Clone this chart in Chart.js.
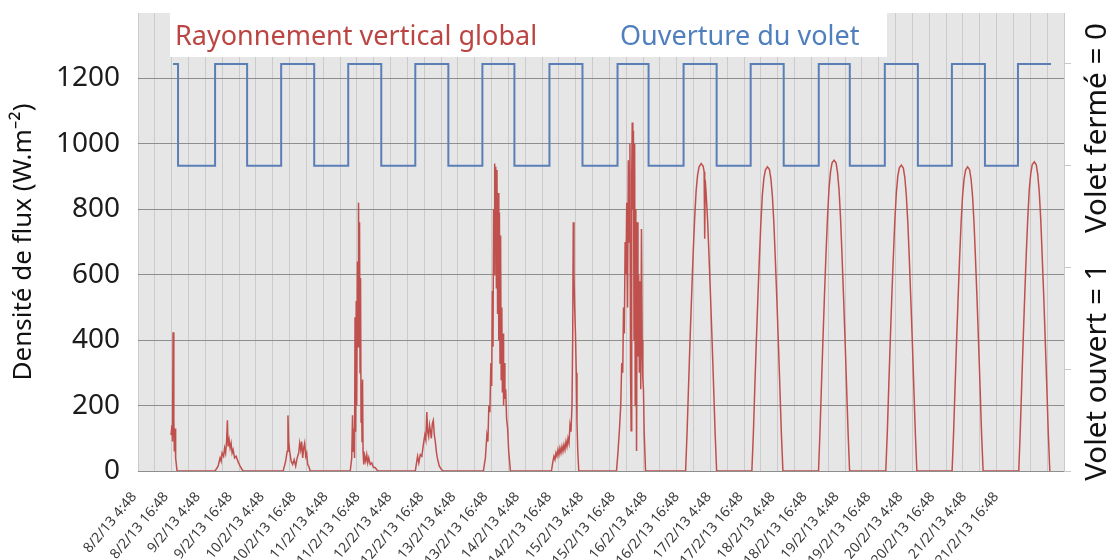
<!DOCTYPE html>
<html>
<head>
<meta charset="utf-8">
<script src="https://cdn.jsdelivr.net/npm/chart.js@4.4.1/dist/chart.umd.min.js"></script>
<style>
  html, body { margin: 0; padding: 0; background: #ffffff; }
  #wrap { width: 1120px; height: 560px; }
</style>
</head>
<body>
<div id="wrap"><canvas id="chart-volet" width="1120" height="560"></canvas></div>
<script>
// Rayonnement vertical global et ouverture du volet, 8/2/13 - 21/2/13
// x = heures depuis 8/2/13 4:48

const tickLabels = ['8/2/13 4:48', '8/2/13 16:48', '9/2/13 4:48', '9/2/13 16:48', '10/2/13 4:48', '10/2/13 16:48',
    '11/2/13 4:48', '11/2/13 16:48', '12/2/13 4:48', '12/2/13 16:48', '13/2/13 4:48', '13/2/13 16:48',
    '14/2/13 4:48', '14/2/13 16:48', '15/2/13 4:48', '15/2/13 16:48', '16/2/13 4:48', '16/2/13 16:48',
    '17/2/13 4:48', '17/2/13 16:48', '18/2/13 4:48', '18/2/13 16:48', '19/2/13 4:48', '19/2/13 16:48',
    '20/2/13 4:48', '20/2/13 16:48', '21/2/13 4:48', '21/2/13 16:48'];

// Rayonnement (W.m-2), [heure, valeur] par journée
const ray0802 = [[11.77,110],[12.13,140],[12.31,90],[12.49,424],[12.77,160],[12.95,60],[13.20,130],[13.41,40],[13.91,0]];
const ray0902 = [[27.47,0],[28.54,15],[29.25,40],[29.61,30],[29.97,55],[30.50,45],[30.86,70],[31.22,55],[31.57,90],[31.86,155],
    [32.11,75],[32.47,95],[32.82,70],[33.18,85],[33.54,55],[33.89,65],[34.43,40],[34.96,45],[35.68,28],[36.39,15],[37.10,4],[37.64,0]];
const ray1002 = [[51.73,0],[52.62,30],[53.16,60],[53.44,170],[53.69,90],[54.05,60],[54.58,30],[55.12,20],[55.65,35],[56.19,15],
    [56.72,40],[57.26,55],[57.62,85],[57.97,65],[58.33,90],[58.69,40],[59.04,70],[59.40,85],[59.76,45],[60.11,55],[60.47,20],[60.83,15],[61.36,0]];
const ray1102 = [[75.63,0],[76.17,40],[76.45,170],[76.70,60],[76.92,130],[77.17,40],[77.35,470],[77.56,120],[77.77,520],[77.95,200],
    [78.20,640],[78.42,380],[78.59,820],[78.77,500],[78.95,760],[79.13,300],[79.31,590],[79.49,150],[79.66,270],[79.84,90],
    [80.02,280],[80.20,60],[80.45,20],[80.81,45],[81.16,30],[81.52,50],[81.88,25],[82.23,40],[82.77,20],[83.30,25],[83.84,12],[84.55,10],[85.44,0]];
const ray1202 = [[98.82,0],[99.36,30],[99.64,45],[100.07,25],[100.61,50],[101.14,45],[101.68,80],[102.21,110],[102.57,95],[102.93,180],
    [103.21,120],[103.57,105],[103.89,140],[104.17,125],[104.53,100],[104.89,145],[105.24,155],[105.60,110],[105.96,90],[106.31,60],
    [106.67,40],[107.38,15],[108.10,5],[108.81,0]];
const ray1302 = [[123.08,0],[123.80,40],[124.33,110],[124.69,90],[125.04,200],[125.40,180],[125.76,330],[126.04,260],[126.29,550],[126.51,380],
    [126.72,800],[126.94,600],[127.11,940],[127.29,700],[127.50,930],[127.72,560],[127.93,920],[128.15,480],[128.36,850],[128.58,400],
    [128.79,790],[129.01,330],[129.22,720],[129.43,280],[129.65,500],[129.86,240],[130.08,420],[130.29,200],[130.50,330],[130.75,220],
    [131.04,250],[131.36,160],[131.72,130],[132.11,60],[132.72,0]];
const ray1402 = [[147.34,0],[147.88,30],[148.23,45],[148.59,35],[148.95,55],[149.30,45],[149.66,65],[150.02,50],[150.37,70],[150.73,55],
    [151.09,75],[151.44,60],[151.80,80],[152.16,65],[152.52,90],[152.87,75],[153.23,100],[153.59,85],[153.94,140],[154.30,120],
    [154.66,200],[154.91,400],[155.12,760],[155.37,600],[155.62,500],[155.90,420],[156.19,300],[156.44,150],[156.72,60],[157.08,0]];
const ray1502 = [[170.53,0],[171.07,60],[171.60,130],[172.03,200],[172.39,330],[172.74,300],[173.03,500],[173.31,420],[173.60,700],[173.89,600],
    [174.17,820],[174.46,500],[174.74,950],[175.03,700],[175.31,1000],[175.53,300],[175.74,123],[175.95,900],[176.13,1065],[176.35,800],
    [176.56,1040],[176.77,400],[176.99,1000],[177.20,200],[177.42,800],[177.67,61],[177.92,760],[178.17,350],[178.42,600],[178.67,300],
    [178.92,580],[179.17,250],[179.42,740],[179.67,400],[179.88,290],[180.13,250],[180.38,120],[180.88,0]];
const ray1602 = [[195.15,0],[195.68,120],[196.22,265],[196.75,405],[197.29,535],[197.82,660],[198.36,770],[198.89,855],[199.43,905],[199.96,930],
    [200.68,940],[201.39,932],[201.75,915],[201.96,710],[202.14,890],[202.46,850],[202.99,765],[203.53,650],[204.07,525],[204.60,395],
    [205.14,255],[205.67,115],[206.21,0]];
const ray1702 = [[218.77,0],[219.30,115],[219.84,262],[220.37,400],[220.91,530],[221.44,650],[221.98,760],[222.51,845],[223.05,895],[223.58,920],
    [224.30,930],[225.01,922],[225.55,893],[226.08,840],[226.62,755],[227.15,642],[227.69,520],[228.22,390],[228.76,252],[229.29,112],[229.83,0]];
const ray1802 = [[242.52,0],[243.06,125],[243.59,270],[244.13,410],[244.67,545],[245.20,668],[245.74,778],[246.27,865],[246.81,915],[247.34,942],
    [248.05,950],[248.77,942],[249.30,912],[249.84,858],[250.37,772],[250.91,655],[251.44,532],[251.98,400],[252.51,260],[253.05,118],[253.59,0]];
const ray1902 = [[266.50,0],[267.03,118],[267.57,264],[268.10,402],[268.64,534],[269.18,655],[269.71,765],[270.25,850],[270.78,902],[271.32,927],
    [272.03,935],[272.74,926],[273.28,897],[273.81,842],[274.35,758],[274.89,646],[275.42,522],[275.96,392],[276.49,254],[277.03,113],[277.56,0]];
const ray2002 = [[290.12,0],[290.65,116],[291.19,260],[291.72,398],[292.26,528],[292.79,650],[293.33,758],[293.86,843],[294.40,893],[294.93,920],
    [295.65,930],[296.36,921],[296.90,891],[297.43,838],[297.97,752],[298.50,640],[299.04,518],[299.57,388],[300.11,250],[300.64,110],[301.18,0]];
const ray2102 = [[313.88,0],[314.41,122],[314.95,268],[315.48,408],[316.02,540],[316.55,663],[317.09,773],[317.62,860],[318.16,910],[318.69,937],
    [319.41,945],[320.12,936],[320.66,906],[321.19,852],[321.73,766],[322.26,650],[322.80,528],[323.33,396],[323.87,258],[324.40,116],[324.94,0]];

// Ouverture du volet : 1 = ouvert, 0 = fermé (changements d'état)
const voletChanges = [[12.49,1],[14.27,0],[27.47,1],[38.89,0],[51.02,1],[62.79,0],[74.92,1],[86.69,0],[98.82,1],[110.60,0],
    [122.73,1],[134.14,0],[146.63,1],[158.40,0],[170.89,1],[181.95,0],[194.43,1],[206.21,0],[218.34,1],[230.11,0],
    [242.60,1],[253.66,0],[266.14,1],[277.92,0],[290.05,1],[301.82,0],[313.59,1],[325.37,1]];

const seriesNames = ['Rayonnement vertical global', 'Ouverture du volet'];
const seriesColors = ['#c0504d', '#5a7fb6'];
const rightTitle = 'Volet ouvert = 1    Volet fermé = 0';

document.addEventListener('DOMContentLoaded', function() {
    Chart.defaults.font.family = "'Noto Sans', 'DejaVu Sans', sans-serif";

    const rayonnement = [].concat(ray0802, ray0902, ray1002, ray1102, ray1202, ray1302, ray1402, ray1502,
        ray1602, ray1702, ray1802, ray1902, ray2002, ray2102).map(p => ({x: p[0], y: p[1]}));
    const volet = voletChanges.map(p => ({x: p[0], y: p[1]}));

    // fond gris de la zone de tracé
    const plotBg = {
        id: 'plotBg',
        beforeDraw(chart) {
            const {ctx, chartArea: {left, top, width, height}} = chart;
            ctx.save();
            ctx.fillStyle = '#e6e6e6';
            ctx.fillRect(left, top, width, height);
            ctx.restore();
        }
    };

    // légende en haut, posée sur le graphique
    const topLegend = {
        id: 'topLegend',
        beforeDatasetsDraw(chart) {
            const {ctx, chartArea: {left, top}} = chart;
            ctx.save();
            ctx.fillStyle = '#ffffff';
            ctx.fillRect(left + 32, top, 717, 44);
            ctx.font = "27px 'Noto Sans'";
            ctx.textBaseline = 'alphabetic';
            ctx.fillStyle = '#bb4542';
            ctx.fillText(chart.data.datasets[0].label, left + 37, top + 32);
            ctx.fillStyle = '#4f7fbd';
            ctx.fillText(chart.data.datasets[1].label, left + 482, top + 32);
            ctx.restore();
        }
    };

    // titre de l'axe de droite, lu de bas en haut
    const rightAxisTitle = {
        id: 'rightAxisTitle',
        afterDraw(chart) {
            const {ctx, chartArea: {right, top, bottom}} = chart;
            ctx.save();
            ctx.translate(right + 34, (top + bottom) / 2 + 10);
            ctx.rotate(-Math.PI / 2);
            ctx.font = "29.5px 'Noto Sans'";
            ctx.fillStyle = '#111111';
            ctx.textAlign = 'center';
            ctx.textBaseline = 'middle';
            ctx.fillText(rightTitle, 0, 0);
            ctx.restore();
        }
    };

    new Chart(document.getElementById('chart-volet'), {
        type: 'line',
        data: {
            datasets: [
                {
                    label: seriesNames[0],
                    data: rayonnement,
                    borderColor: seriesColors[0],
                    borderWidth: 1.5,
                    pointRadius: 0,
                    tension: 0,
                    xAxisID: 'x',
                    yAxisID: 'y'
                },
                {
                    label: seriesNames[1],
                    data: volet,
                    borderColor: seriesColors[1],
                    borderWidth: 2,
                    pointRadius: 0,
                    stepped: true,
                    xAxisID: 'x',
                    yAxisID: 'y2'
                }
            ]
        },
        options: {
            responsive: false,
            animation: false,
            layout: { padding: { top: 13, left: 0, right: 0, bottom: 0 } },
            plugins: {
                legend: { display: false },
                tooltip: { enabled: false }
            },
            scales: {
                x: {
                    type: 'linear',
                    position: 'bottom',
                    min: 0,
                    max: 330,
                    weight: 2,
                    ticks: { display: false, stepSize: 6, maxTicksLimit: 1000 },
                    grid: { color: '#cbcbcb', drawTicks: false },
                    border: { display: false },
                    afterFit(scale) { scale.height = 0; }
                },
                xl: {
                    type: 'linear',
                    position: 'bottom',
                    min: 0,
                    max: 29,
                    weight: 1,
                    grid: { display: false },
                    border: { display: false },
                    ticks: {
                        stepSize: 1,
                        autoSkip: false,
                        maxTicksLimit: 1000,
                        minRotation: 50,
                        maxRotation: 50,
                        padding: 10,
                        labelOffset: -4,
                        color: '#3c3c3c',
                        font: { size: 14 },
                        callback: (v) => tickLabels[v] !== undefined ? tickLabels[v] : ''
                    },
                    afterFit(scale) { scale.height = 89; }
                },
                y: {
                    position: 'left',
                    min: 0,
                    max: 1400,
                    afterBuildTicks(scale) {
                        scale.ticks = scale.ticks.filter(t => t.value < 1400);
                    },
                    ticks: {
                        stepSize: 200,
                        padding: 18,
                        color: '#1c1c1c',
                        font: { size: 28 },
                        callback: (v) => String(v)
                    },
                    grid: { color: '#8e8e8e', drawTicks: false },
                    border: { display: false },
                    title: {
                        display: true,
                        text: 'Densité de flux (W.m⁻²)',
                        color: '#111111',
                        font: { size: 26 },
                        padding: { top: 8, bottom: 0 }
                    },
                    afterFit(scale) {
                        scale.width = 138;
                        scale.paddingTop = 0;
                        scale.paddingBottom = 0;
                    }
                },
                y2: {
                    position: 'right',
                    min: -3,
                    max: 1.5,
                    ticks: { display: false, stepSize: 1, includeBounds: false },
                    grid: { drawOnChartArea: false, color: '#c8c8c8', tickLength: 7 },
                    border: { display: false },
                    afterFit(scale) {
                        scale.width = 56;
                        scale.paddingTop = 0;
                        scale.paddingBottom = 0;
                    }
                }
            }
        },
        plugins: [plotBg, topLegend, rightAxisTitle]
    });
});
</script>
</body>
</html>
